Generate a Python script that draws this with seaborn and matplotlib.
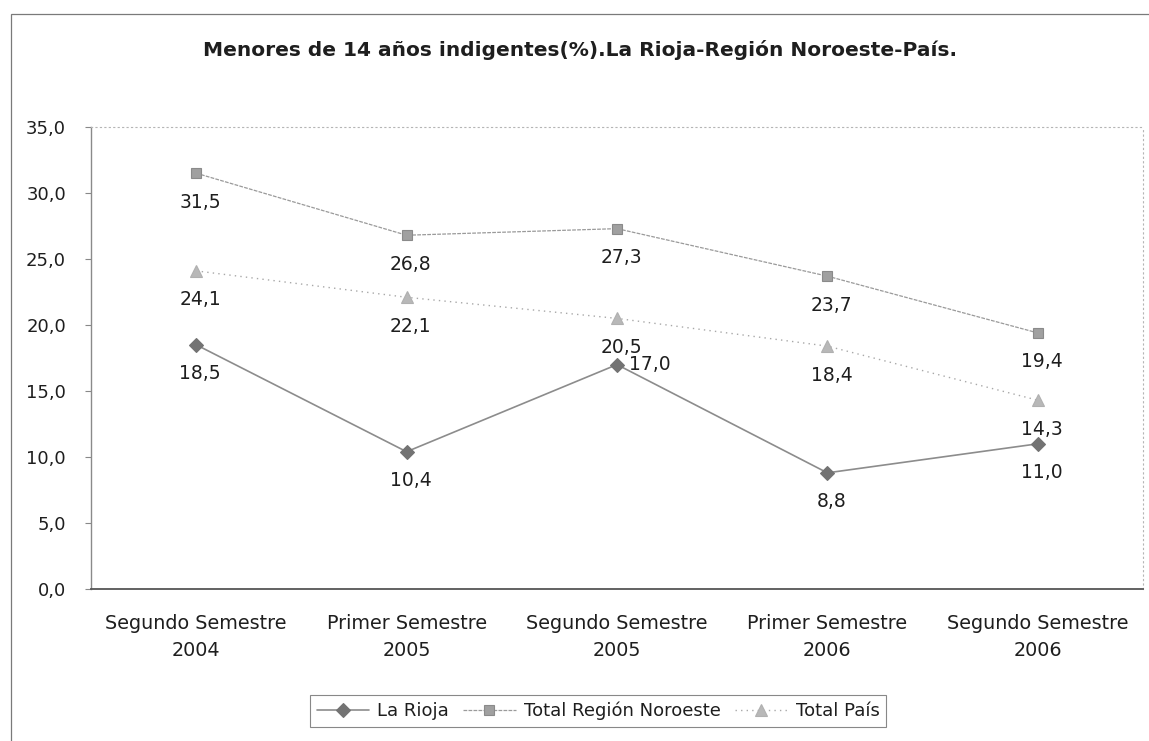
import matplotlib
matplotlib.use("Agg")
import matplotlib.pyplot as plt
from matplotlib.patches import Rectangle
import seaborn as sns
import pandas as pd

# Periods (semesters) on the x axis
periods = ["Segundo Semestre\n2004", "Primer Semestre\n2005", "Segundo Semestre\n2005",
           "Primer Semestre\n2006", "Segundo Semestre\n2006"]

# Share of children under 14 in extreme poverty (%)
la_rioja = [18.5, 10.4, 17.0, 8.8, 11.0]
region_noroeste = [31.5, 26.8, 27.3, 23.7, 19.4]
total_pais = [24.1, 22.1, 20.5, 18.4, 14.3]

series_names = ["La Rioja", "Total Región Noroeste", "Total País"]
y_ticks = [0, 5, 10, 15, 20, 25, 30, 35]

rows = []
for name, vals in zip(series_names, [la_rioja, region_noroeste, total_pais]):
    for i, v in enumerate(vals):
        rows.append({"serie": name, "pos": i, "valor": v})
df = pd.DataFrame(rows)

sns.set_theme(style="white")
plt.rcParams["font.family"] = ["DejaVu Sans"]
TXT = "#1e1e1e"

fig = plt.figure(figsize=(11.49, 7.41), dpi=100)
W, H = 1149, 741
ax = fig.add_axes([91 / W, 1 - 589 / H, (1143 - 91) / W, (589 - 127) / H])

styles = {
    "La Rioja": dict(color="#8c8c8c", linestyle="-", linewidth=1.2,
                     marker="D", markersize=7, markerfacecolor="#737373",
                     markeredgecolor="#737373"),
    "Total Región Noroeste": dict(color="#9a9a9a", linestyle=(0, (3, 1)), linewidth=0.9,
                                  marker="s", markersize=7.5, markerfacecolor="#a0a0a0",
                                  markeredgecolor="#8a8a8a"),
    "Total País": dict(color="#a8a8a8", linestyle=(0, (1, 3)), linewidth=1.0,
                       marker="^", markersize=8, markerfacecolor="#b8b8b8",
                       markeredgecolor="#b0b0b0"),
}

for name in series_names:
    sub = df[df["serie"] == name]
    st = styles[name]
    sns.lineplot(data=sub, x="pos", y="valor", ax=ax, label=name,
                 color=st["color"], linestyle=st["linestyle"], linewidth=st["linewidth"],
                 marker=st["marker"], markersize=st["markersize"],
                 markerfacecolor=st["markerfacecolor"], markeredgecolor=st["markeredgecolor"],
                 markeredgewidth=0.8, estimator=None, sort=False)

# Value labels (decimal comma)
for name, vals in zip(series_names, [la_rioja, region_noroeste, total_pais]):
    for i, v in enumerate(vals):
        txt = f"{v:.1f}".replace(".", ",")
        if name == "La Rioja" and i == 2:
            ax.annotate(txt, (i, v), xytext=(12, 0), textcoords="offset pixels",
                        ha="left", va="center", fontsize=13.5, color=TXT)
        else:
            ax.annotate(txt, (i, v), xytext=(4, -29), textcoords="offset pixels",
                        ha="center", va="center", fontsize=13.5, color=TXT)

ax.set_xlim(-0.5, 4.5)
ax.set_ylim(0, 35)
ax.set_yticks(y_ticks)
ax.set_yticklabels([f"{t:.1f}".replace(".", ",") for t in y_ticks], fontsize=13, color=TXT)
ax.set_xticks(range(len(periods)))
ax.set_xticklabels(periods, fontsize=13.8, color=TXT, linespacing=1.55)
ax.set_xticks([-0.5, 0.5, 1.5, 2.5, 3.5, 4.5], minor=True)
ax.tick_params(axis="x", which="major", length=0, pad=18)
ax.tick_params(axis="x", which="minor", length=4, width=0.8, color="#666666", direction="out")
ax.tick_params(axis="y", which="major", length=4, width=0.8, color="#888888",
               direction="out", pad=14, left=True)
ax.set_xlabel("")
ax.set_ylabel("")
ax.grid(False)

ax.spines["left"].set_color("#8a8a8a")
ax.spines["left"].set_linewidth(1.0)
ax.spines["bottom"].set_color("#555555")
ax.spines["bottom"].set_linewidth(1.3)
for s in ["top", "right"]:
    ax.spines[s].set_color("#b5b5b5")
    ax.spines[s].set_linewidth(0.8)
    ax.spines[s].set_linestyle((0, (1, 3)))

ax.get_legend().remove()
handles, labels = ax.get_legend_handles_labels()
leg = fig.legend(handles, labels, loc="center", bbox_to_anchor=(598 / W, 1 - 711 / H),
                 ncol=3, frameon=True, fancybox=False, fontsize=13, handlelength=2.9,
                 columnspacing=0.8, handletextpad=0.45, borderpad=0.35, borderaxespad=0)
leg.get_frame().set_edgecolor("#6a6a6a")
leg.get_frame().set_linewidth(0.8)
for t in leg.get_texts():
    t.set_color(TXT)

fig.text(580 / W, 1 - 50 / H, "Menores de 14 años indigentes(%).La Rioja-Región Noroeste-País.",
         ha="center", va="center", fontsize=14.5, fontweight="bold", color=TXT)

# Chart-area frame
fig.patches.append(Rectangle((11 / W, -0.05), 1.1, 1 - 14 / H + 0.05,
                             transform=fig.transFigure, fill=False,
                             edgecolor="#7a7a7a", linewidth=0.9))

fig.savefig("out.png", dpi=100, facecolor="white")
